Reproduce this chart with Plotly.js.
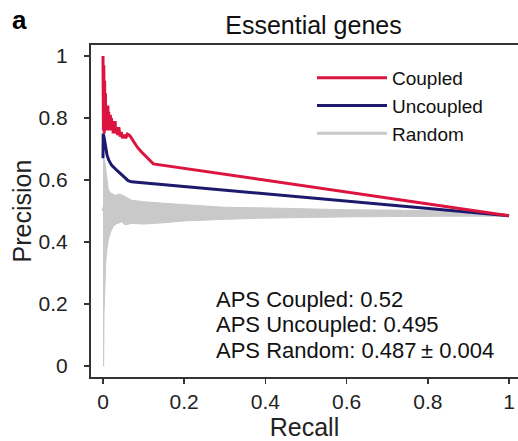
<!DOCTYPE html>
<html>
<head>
<meta charset="utf-8">
<script src="https://cdn.plot.ly/plotly-3.0.1.min.js"></script>
<style>html,body{margin:0;padding:0;background:#fff;}#chart{width:518px;height:441px;}</style>
</head>
<body>
<div id="chart"></div>
<script>
// ---- Data ----
// Coupled precision-recall curve
const coupledRecall = [0, 0.001, 0.002, 0.003, 0.004, 0.005, 0.006, 0.007, 0.008, 0.009, 0.010, 0.011, 0.012, 0.013, 0.014, 0.015, 0.016, 0.017, 0.018, 0.020, 0.021, 0.022, 0.024, 0.025, 0.026, 0.028, 0.030, 0.031, 0.033, 0.036, 0.039, 0.042, 0.045, 0.048, 0.052, 0.056, 0.060, 0.064, 0.068, 0.075, 0.085, 0.095, 0.110, 0.124, 1.0];
const coupledPrecision = [1.0, 0.76, 0.97, 0.75, 0.92, 0.77, 0.88, 0.76, 0.84, 0.79, 0.83, 0.77, 0.84, 0.76, 0.82, 0.78, 0.80, 0.76, 0.81, 0.77, 0.80, 0.76, 0.79, 0.75, 0.78, 0.755, 0.79, 0.75, 0.77, 0.745, 0.77, 0.74, 0.755, 0.735, 0.745, 0.735, 0.748, 0.745, 0.74, 0.725, 0.705, 0.69, 0.67, 0.652, 0.485];

// Uncoupled precision-recall curve
const uncoupledRecall = [0, 0.0005, 0.003, 0.006, 0.010, 0.014, 0.021, 0.035, 0.050, 0.062, 0.070, 1.0];
const uncoupledPrecision = [0.67, 0.75, 0.735, 0.71, 0.68, 0.665, 0.648, 0.63, 0.612, 0.598, 0.594, 0.485];

// Random curves: envelope of the gray band and a representative curve
const randomUpperRecall = [0, 0.002, 0.004, 0.006, 0.010, 0.013, 0.017, 0.022, 0.030, 0.040, 0.050, 0.070, 0.100, 0.150, 0.200, 0.300, 0.400, 0.500, 0.600, 0.700, 0.800, 0.900, 1.0];
const randomUpperPrecision = [0.67, 0.67, 0.665, 0.64, 0.60, 0.57, 0.56, 0.555, 0.55, 0.555, 0.55, 0.535, 0.53, 0.525, 0.52, 0.512, 0.51, 0.506, 0.504, 0.503, 0.501, 0.496, 0.487];
const randomLowerRecall = [0, 0.0015, 0.0025, 0.004, 0.0066, 0.009, 0.013, 0.018, 0.025, 0.032, 0.046, 0.055, 0.070, 0.100, 0.150, 0.200, 0.300, 0.400, 0.500, 0.600, 0.700, 0.800, 0.900, 1.0];
const randomLowerPrecision = [0.0, 0.0, 0.17, 0.25, 0.33, 0.37, 0.406, 0.43, 0.45, 0.458, 0.465, 0.455, 0.46, 0.458, 0.462, 0.468, 0.473, 0.477, 0.48, 0.481, 0.482, 0.483, 0.484, 0.484];
const randomMedianRecall = [0, 0.005, 0.010, 0.020, 0.040, 0.070, 0.100, 0.200, 0.400, 0.600, 0.800, 1.0];
const randomMedianPrecision = [0.5, 0.52, 0.5, 0.49, 0.5, 0.495, 0.49, 0.49, 0.492, 0.492, 0.49, 0.486];

// Scores
const apsLabels = ["APS Coupled: 0.52", "APS Uncoupled: 0.495", "APS Random: 0.487\u2009±\u00a00.004"];

// Tick values
const tickVals = [0, 0.2, 0.4, 0.6, 0.8, 1];
const tickText = ["0", "0.2", "0.4", "0.6", "0.8", "1"];

// ---- Styles ----
const RED = '#dc1440', NAVY = '#1b1a6c', GRAY = '#c9c9c9';
const FONT = 'Liberation Sans, Arial, Helvetica, sans-serif';

// gray band polygon built from the envelope arrays
const bandX = randomUpperRecall.concat(randomLowerRecall.slice().reverse());
const bandY = randomUpperPrecision.concat(randomLowerPrecision.slice().reverse());

const traces = [
  {x: bandX, y: bandY, mode: 'lines', line: {color: GRAY, width: 1}, fill: 'toself', fillcolor: GRAY, showlegend: false, hoverinfo: 'skip'},
  {x: randomMedianRecall, y: randomMedianPrecision, mode: 'lines', name: 'Random', line: {color: GRAY, width: 3}},
  {x: uncoupledRecall, y: uncoupledPrecision, mode: 'lines', name: 'Uncoupled', line: {color: NAVY, width: 3}},
  {x: coupledRecall, y: coupledPrecision, mode: 'lines', name: 'Coupled', line: {color: RED, width: 3}}
];

const annotations = apsLabels.map((t, i) => ({
  text: t, xref: 'paper', yref: 'paper', x: (214 - 91) / 427, y: (377 - (299 + i * 25.5)) / 332,
  xanchor: 'left', yanchor: 'middle', showarrow: false, font: {family: FONT, size: 22, color: '#111'}
}));
annotations.push({text: '<b>a</b>', xref: 'paper', yref: 'paper', x: (10 - 91) / 427, y: (377 - 20) / 332,
  xanchor: 'left', yanchor: 'middle', showarrow: false, font: {family: FONT, size: 26, color: '#000'}});

const layout = {
  width: 518, height: 441,
  margin: {l: 91, r: 0, t: 45, b: 64, pad: 0},
  paper_bgcolor: '#fff', plot_bgcolor: '#fff',
  font: {family: FONT, color: '#222'},
  title: {text: 'Essential genes', font: {family: FONT, size: 25, color: '#111'}, x: 313.5 / 518, xanchor: 'center', y: 1 - 25 / 441, yanchor: 'middle'},
  xaxis: {
    range: [-12 / 406, 415 / 406], tickvals: tickVals, ticktext: tickText,
    showgrid: false, zeroline: false, showline: true, linecolor: '#333', linewidth: 2, mirror: true,
    ticks: 'outside', ticklen: 5, tickwidth: 1.5, tickcolor: '#333',
    tickfont: {family: FONT, size: 21, color: '#222'},
    title: {text: 'Recall', font: {family: FONT, size: 25, color: '#222'}, standoff: 7}
  },
  yaxis: {
    range: [-11 / 310, 1 + 11 / 310], tickvals: tickVals, ticktext: tickText,
    showgrid: false, zeroline: false, showline: true, linecolor: '#333', linewidth: 2,
    ticks: 'outside', ticklen: 5, tickwidth: 1.5, tickcolor: '#333', ticklabelstandoff: 12,
    tickfont: {family: FONT, size: 21, color: '#222'},
    title: {text: 'Precision', font: {family: FONT, size: 25, color: '#222'}, standoff: 0}
  },
  legend: {
    x: (312 - 91) / 427, y: (377 - 59) / 332, xanchor: 'left', yanchor: 'top',
    bgcolor: 'rgba(0,0,0,0)', font: {family: FONT, size: 19, color: '#111'},
    itemwidth: 70, tracegroupgap: 0, traceorder: 'reversed'
  },
  annotations: annotations,
  showlegend: true
};

Plotly.newPlot('chart', traces, layout, {displayModeBar: false, staticPlot: true});
</script>
</body>
</html>
